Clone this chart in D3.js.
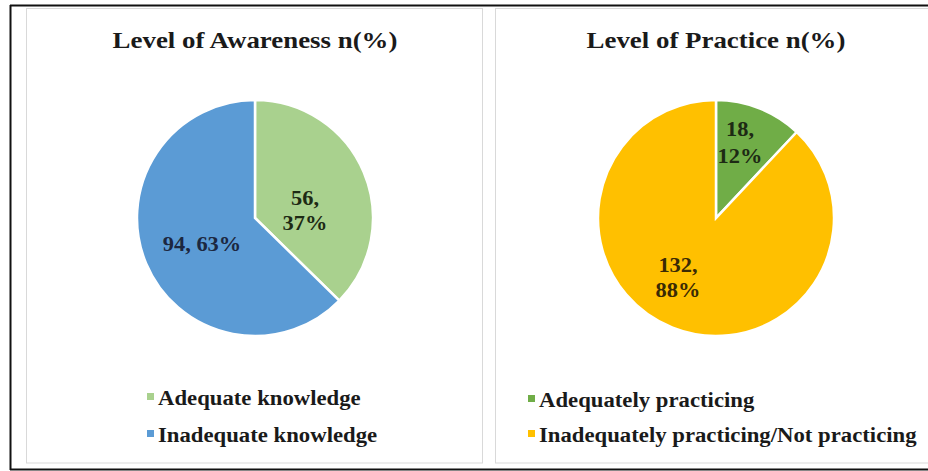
<!DOCTYPE html>
<html><head><meta charset="utf-8">
<script src="https://cdn.jsdelivr.net/npm/d3@7"></script>
<style>body{margin:0;background:#fff}svg{display:block}</style>
</head><body>
<svg id="c" width="928" height="471"></svg>
<script>
const awarenessCategories = ["Adequate knowledge", "Inadequate knowledge"];
const awarenessValues = [56, 94];
const awarenessPercents = [37, 63];
const practiceCategories = ["Adequately practicing", "Inadequately practicing/Not practicing"];
const practiceValues = [18, 132];
const practicePercents = [12, 88];
const titles = ["Level of Awareness n(%)", "Level of Practice n(%)"];

const svg = d3.select("#c");
const font = "'Liberation Serif', 'Times New Roman', serif";
const SX = 1.12; // horizontal stretch of the reference's text rendering

// outer frame
svg.append("line").attr("x1",10.5).attr("x2",10.5).attr("y1",5).attr("y2",470).attr("stroke","#111").attr("stroke-width",2);
svg.append("line").attr("x1",10).attr("x2",928).attr("y1",5.5).attr("y2",5.5).attr("stroke","#111").attr("stroke-width",2);
svg.append("line").attr("x1",10).attr("x2",928).attr("y1",469.5).attr("y2",469.5).attr("stroke","#111").attr("stroke-width",2);
// panel borders
svg.append("rect").attr("x",26.5).attr("y",8.5).attr("width",456).attr("height",454.5).attr("fill","#fff").attr("stroke","#d9d9d9");
svg.append("rect").attr("x",495.5).attr("y",8.5).attr("width",440).attr("height",454.5).attr("fill","#fff").attr("stroke","#d9d9d9");

function stretchedText(parent, x, y, size, anchor, fill, str){
  return parent.append("text")
    .attr("transform",`translate(${x},${y}) scale(${SX},1)`)
    .attr("text-anchor",anchor).attr("font-family",font).attr("font-weight","bold")
    .attr("font-size",size).attr("fill",fill).text(str);
}

function drawPie(cx, cy, r, title, cats, vals, pcts, colors, labelPos, labelFill, legendX, legendY, legendGap){
  const g = svg.append("g");
  stretchedText(g, cx, 48, 24, "middle", "#1a1a1a", title);
  const pie = d3.pie().sort(null).value(d=>d)(vals);
  const arc = d3.arc().innerRadius(0).outerRadius(r);
  const pg = g.append("g").attr("transform",`translate(${cx},${cy})`);
  pg.selectAll("path").data(pie).join("path").attr("d",arc)
    .attr("fill",(d,i)=>colors[i]).attr("stroke","#fff").attr("stroke-width",2.5);
  pie.forEach((d,i)=>{
    const lines = labelPos[i].lines(vals[i], pcts[i]);
    lines.forEach((s,j)=>{
      stretchedText(g, cx+labelPos[i].dx, cy+labelPos[i].dy+j*labelPos[i].gap, 20, "middle", labelFill[i], s);
    });
  });
  cats.forEach((c,i)=>{
    const y = legendY + i*legendGap;
    g.append("rect").attr("x",legendX).attr("y",y-12).attr("width",7).attr("height",7).attr("fill",colors[i]);
    stretchedText(g, legendX+11, y, 20.3, "start", "#1a1a1a", c);
  });
}

drawPie(255, 218, 118, titles[0], awarenessCategories, awarenessValues, awarenessPercents,
  ["#A9D18E","#5B9BD5"],
  [{dx:50, dy:-13, gap:25, lines:(v,p)=>[v+",", p+"%"]}, {dx:-53, dy:33, gap:0, lines:(v,p)=>[v+", "+p+"%"]}],
  ["#1d2a14","#1c2740"], 147, 405, 37);

drawPie(716, 218, 118, titles[1], practiceCategories, practiceValues, practicePercents,
  ["#70AD47","#FFC000"],
  [{dx:24, dy:-82, gap:27, lines:(v,p)=>[v+",", p+"%"]}, {dx:-38, dy:54, gap:25, lines:(v,p)=>[v+",", p+"%"]}],
  ["#1d2a14","#3a2a05"], 528, 407, 35);
</script>
</body></html>
